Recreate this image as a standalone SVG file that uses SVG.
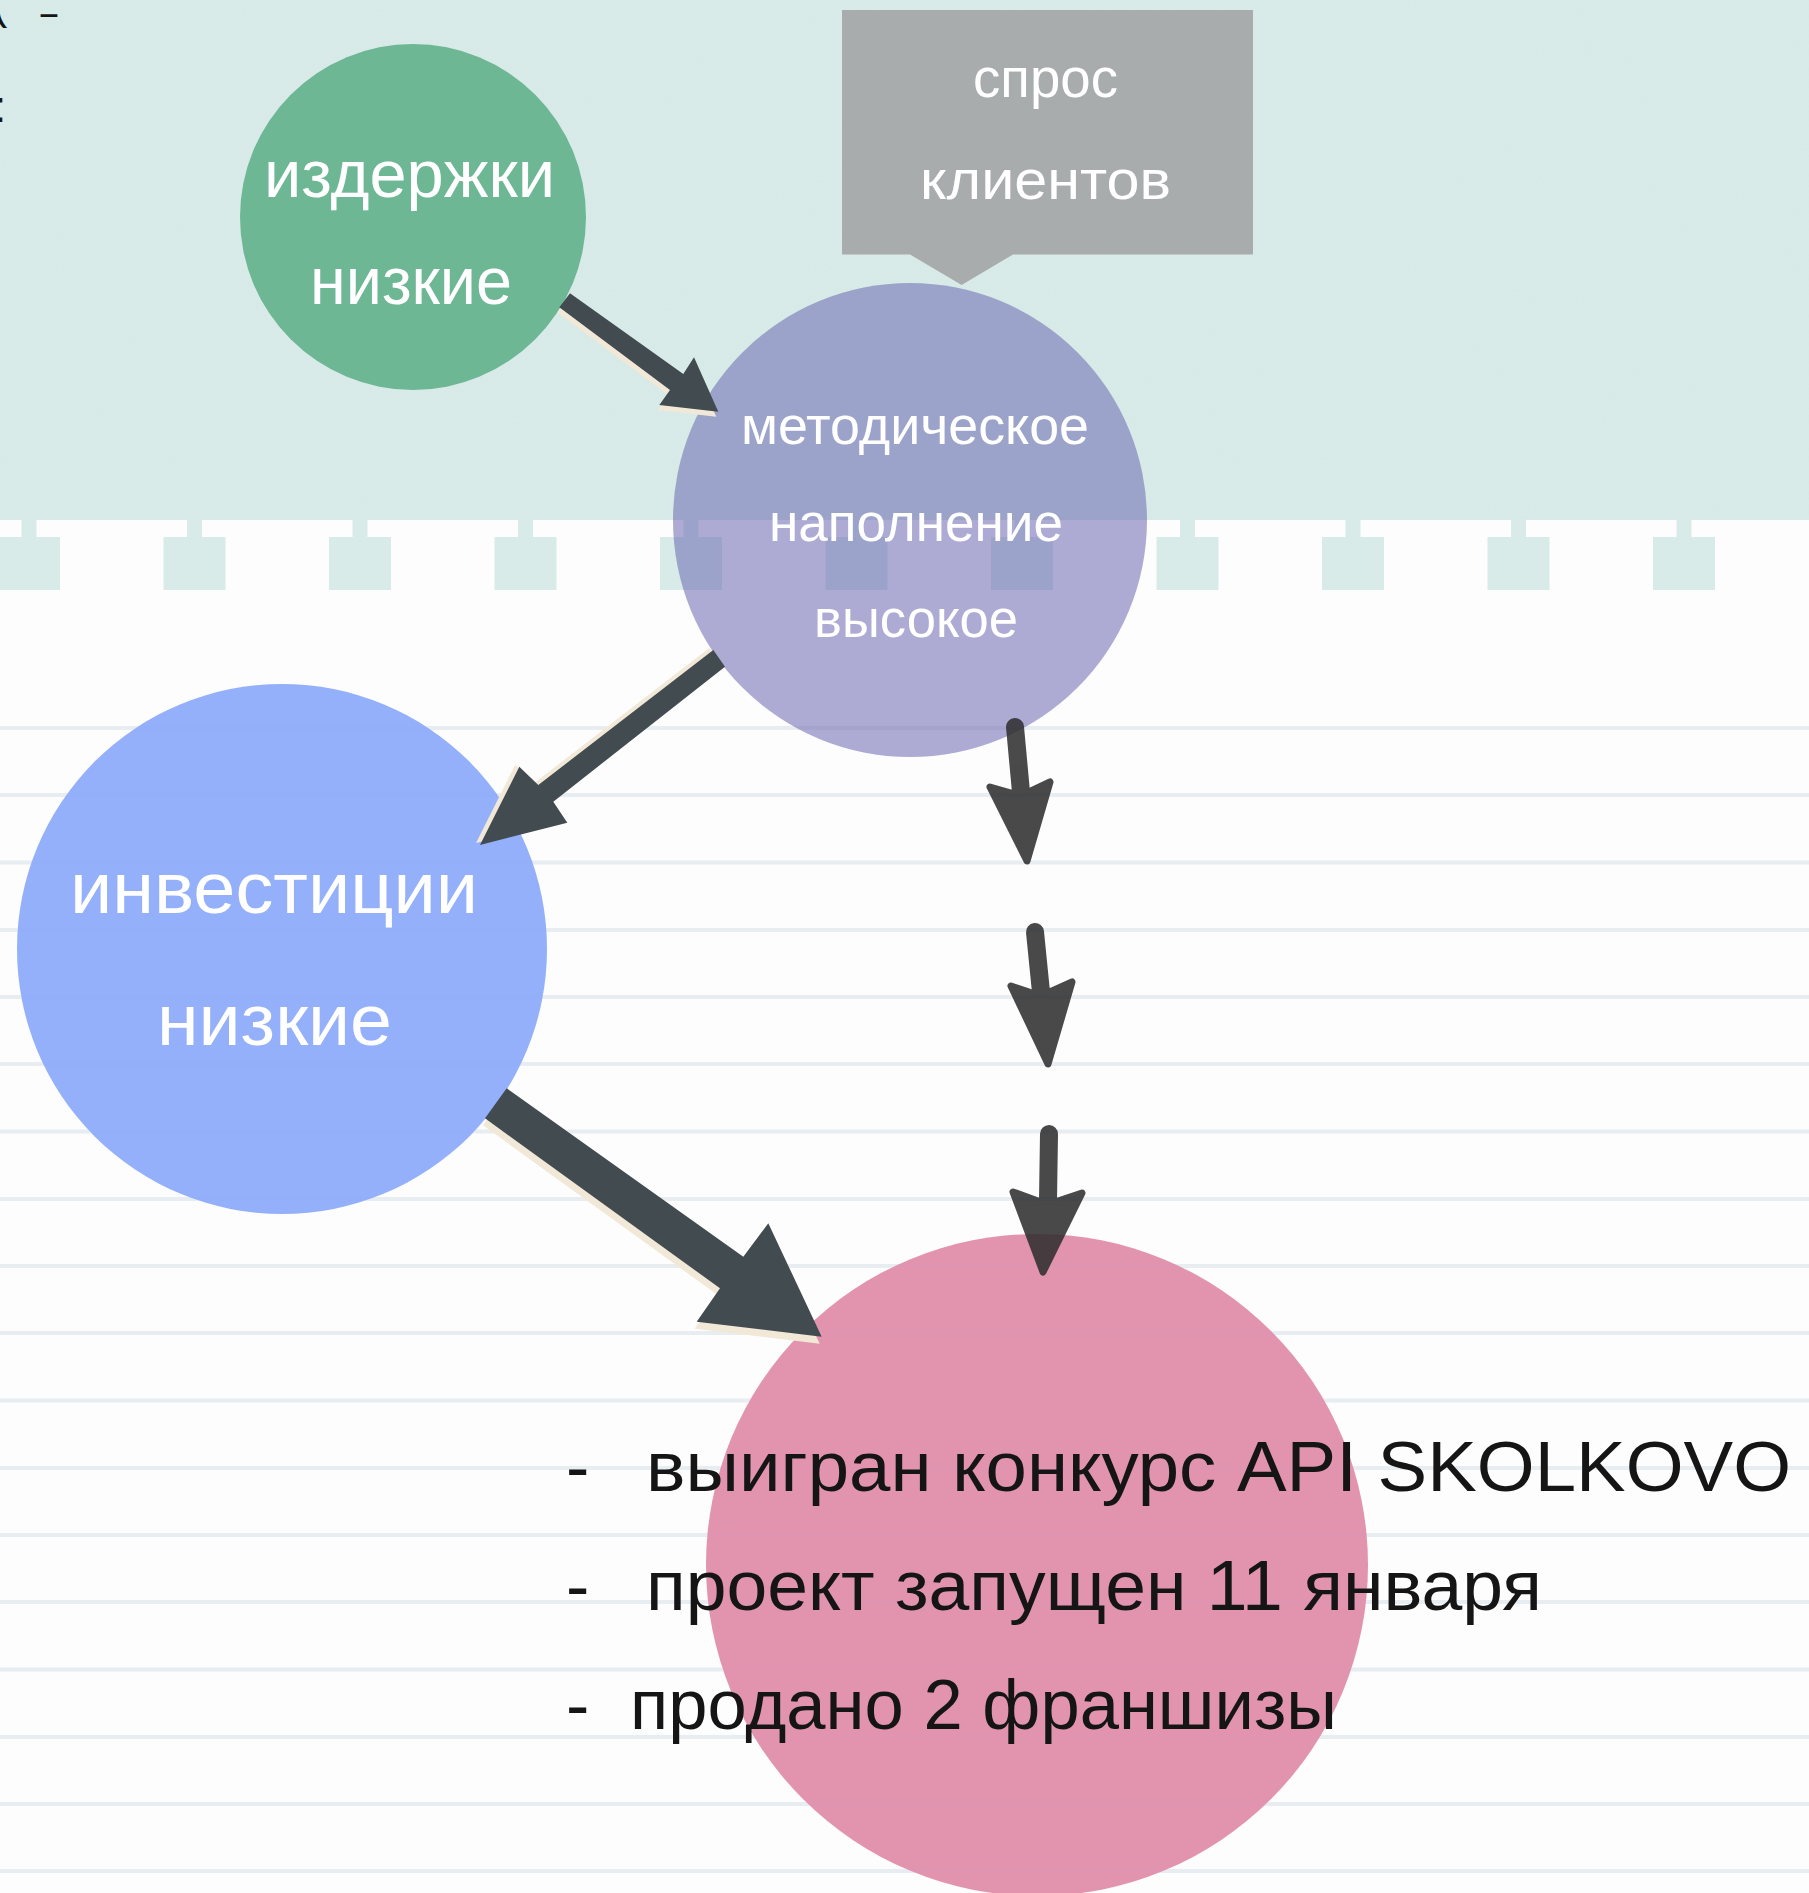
<svg xmlns="http://www.w3.org/2000/svg" xmlns:xlink="http://www.w3.org/1999/xlink" width="1809" height="1893" viewBox="0 0 1809 1893">
<style>
  .w { font-family: "Liberation Sans", "DejaVu Sans", sans-serif; fill: #ffffff; }
  .k { font-family: "Liberation Sans", "DejaVu Sans", sans-serif; fill: #151515; }
  .teal { fill: #d8ebe8; }
  .rule { stroke: #e8edf1; stroke-width: 4; fill: none; }
  .arrow { fill: #424b50; }
  .shadow { fill: #f1e8d8; }
  .dash-shaft { stroke: #2f2f2f; stroke-width: 18; stroke-linecap: round; fill: none; }
  .dash-head { fill: #2f2f2f; stroke: #2f2f2f; stroke-width: 7; stroke-linejoin: round; }
</style>
<defs>
  <filter id="paper" x="0" y="0" width="100%" height="100%">
    <feTurbulence type="fractalNoise" baseFrequency="0.85" numOctaves="3" seed="7" result="n"/>
    <feColorMatrix in="n" type="matrix" values="0 0 0 0 0.62  0 0 0 0 0.76  0 0 0 0 0.75  0.55 0 0 0 -0.22"/>
  </filter>
  <g id="tab">
    <rect x="23.5" y="519" width="15" height="19" class="teal"/>
    <rect x="0" y="537" width="62" height="53" class="teal"/>
  </g>
</defs>

<g id="background">
  <rect x="0" y="0" width="1809" height="1893" fill="#fdfdfd"/>
  <path class="rule" d="M0,728H1809M0,795H1809M0,862.5H1809M0,930H1809M0,997H1809M0,1064H1809M0,1131.5H1809M0,1199H1809M0,1266H1809M0,1333H1809M0,1400.5H1809M0,1468H1809M0,1535H1809M0,1602H1809M0,1669.5H1809M0,1737H1809M0,1804H1809M0,1871H1809"/>
  <rect x="0" y="0" width="1809" height="520" class="teal"/>
  <rect x="0" y="0" width="1809" height="520" filter="url(#paper)"/>
  <use xlink:href="#tab" x="-2"/>
  <use xlink:href="#tab" x="163.5"/>
  <use xlink:href="#tab" x="329"/>
  <use xlink:href="#tab" x="494.5"/>
  <use xlink:href="#tab" x="660"/>
  <use xlink:href="#tab" x="825.5"/>
  <use xlink:href="#tab" x="991"/>
  <use xlink:href="#tab" x="1156.5"/>
  <use xlink:href="#tab" x="1322"/>
  <use xlink:href="#tab" x="1487.5"/>
  <use xlink:href="#tab" x="1653"/>
  <text class="k" x="-8" y="18" font-size="46">(</text>
  <text class="k" x="38" y="22" font-size="24" font-weight="bold" textLength="22" lengthAdjust="spacingAndGlyphs">-</text>
  <text class="k" x="-6" y="122" font-size="44">:</text>
</g>

<g id="node-izderzhki">
  <circle cx="413" cy="217" r="173" fill="#6db795"/>
  <text class="w" x="264" y="197" font-size="66" textLength="291" lengthAdjust="spacingAndGlyphs">издержки</text>
  <text class="w" x="310" y="304" font-size="66" textLength="202" lengthAdjust="spacingAndGlyphs">низкие</text>
</g>

<g id="node-spros">
  <path d="M842,10H1253V254.5H1013L961.6,285L910,254.5H842Z" fill="#a9acac"/>
  <text class="w" x="973" y="97" font-size="56" textLength="145" lengthAdjust="spacingAndGlyphs">спрос</text>
  <text class="w" x="920" y="199" font-size="56" textLength="251" lengthAdjust="spacingAndGlyphs">клиентов</text>
</g>

<g id="node-metodicheskoe">
  <circle cx="910" cy="520" r="237" fill="#6c68b1" fill-opacity="0.55"/>
  <text class="w" x="741" y="444" font-size="54" textLength="348" lengthAdjust="spacingAndGlyphs">методическое</text>
  <text class="w" x="769" y="541" font-size="54" textLength="294" lengthAdjust="spacingAndGlyphs">наполнение</text>
  <text class="w" x="814" y="637" font-size="54" textLength="204" lengthAdjust="spacingAndGlyphs">высокое</text>
</g>

<g id="node-investicii">
  <circle cx="282" cy="949" r="265" fill="#8eacfa" fill-opacity="0.95"/>
  <text class="w" x="70" y="913" font-size="72" textLength="408" lengthAdjust="spacingAndGlyphs">инвестиции</text>
  <text class="w" x="157" y="1045" font-size="72" textLength="235" lengthAdjust="spacingAndGlyphs">низкие</text>
</g>

<g id="node-result">
  <circle cx="1037" cy="1565" r="331" fill="#e190ac" fill-opacity="0.96"/>
  <text class="k" x="566" y="1491" font-size="70">-</text>
  <text class="k" x="646" y="1491" font-size="70" textLength="1145" lengthAdjust="spacingAndGlyphs">выигран конкурс API SKOLKOVO</text>
  <text class="k" x="566" y="1610" font-size="70">-</text>
  <text class="k" x="646" y="1610" font-size="70" textLength="896" lengthAdjust="spacingAndGlyphs">проект запущен 11 января</text>
  <text class="k" x="566" y="1729" font-size="70">-</text>
  <text class="k" x="630" y="1729" font-size="70" textLength="707" lengthAdjust="spacingAndGlyphs">продано 2 франшизы</text>
</g>

<g id="connectors">
  <g id="arrow-izderzhki-metodicheskoe">
    <polygon class="shadow" transform="translate(-2,5)" points="570,293.3 683.3,374 694,357.3 718.3,411.7 659.3,405 670,390 559.3,307.3"/>
    <polygon class="arrow" points="570,293.3 683.3,374 694,357.3 718.3,411.7 659.3,405 670,390 559.3,307.3"/>
  </g>
  <g id="arrow-metodicheskoe-investicii">
    <polygon class="shadow" transform="translate(-4,-2)" points="713.3,650 725,666.7 553.3,801.7 567.3,822.7 480,845 519.3,766.7 538.3,785"/>
    <polygon class="arrow" points="713.3,650 725,666.7 553.3,801.7 567.3,822.7 480,845 519.3,766.7 538.3,785"/>
  </g>
  <g id="arrow-investicii-result">
    <polygon class="shadow" transform="translate(-2,7)" points="506.7,1088.3 743.3,1256.7 768.3,1223.3 821.7,1336.7 696.7,1321.7 720,1288.3 485,1118.3"/>
    <polygon class="arrow" points="506.7,1088.3 743.3,1256.7 768.3,1223.3 821.7,1336.7 696.7,1321.7 720,1288.3 485,1118.3"/>
  </g>
  <g id="arrow-metodicheskoe-result-dashed" opacity="0.87">
    <path class="dash-shaft" d="M1015,727L1021,792"/>
    <polygon class="dash-head" points="990,787 1011,793 1031,791 1050,782 1027,861"/>
    <path class="dash-shaft" d="M1035,932L1041,992"/>
    <polygon class="dash-head" points="1011,986 1032,993 1052,991 1072,982 1048,1064"/>
    <path class="dash-shaft" d="M1049,1134L1048,1200"/>
    <polygon class="dash-head" points="1013,1192 1038,1201 1058,1201 1082,1193 1043,1272"/>
  </g>
</g>
</svg>
